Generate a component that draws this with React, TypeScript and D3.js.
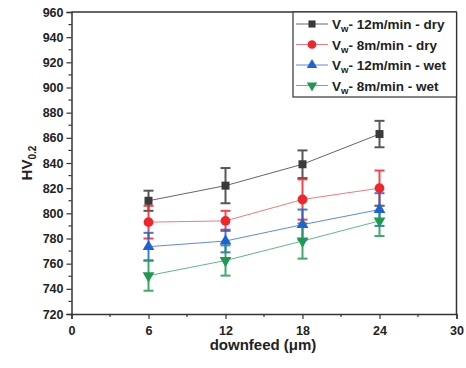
import React, { useEffect, useRef } from 'react';
import * as d3 from 'd3';

const downfeed = [6, 12, 18, 24];
const seriesNames = ['12m/min - dry', '8m/min - dry', '12m/min - wet', '8m/min - wet'];
const dry12 = [810, 822, 839, 863];
const dry12Err = [8, 14, 11, 10.5];
const dry8 = [793, 794, 811, 820];
const dry8Err = [13, 8, 16, 14];
const wet12 = [773.5, 778, 791, 803];
const wet12Err = [11, 9, 12, 13];
const wet8 = [750.5, 762.5, 778, 794];
const wet8Err = [12, 12, 14, 12];
const xTicks = [0, 6, 12, 18, 24, 30];
const yTicks = [720, 740, 760, 780, 800, 820, 840, 860, 880, 900, 920, 940, 960];

export default function App() {
  const ref = useRef<SVGSVGElement>(null);

  useEffect(() => {
    const svg = d3.select(ref.current);
    svg.selectAll('*').remove();

    const left = 71.5, right = 456.5, top = 12, bottom = 314;
    const x = d3.scaleLinear().domain([0, 30]).range([left, right]);
    const y = d3.scaleLinear().domain([720, 960]).range([bottom, top]);
    const axisColor = '#333';
    const font = 'Arial, "Liberation Sans", sans-serif';

    const series = [
      { vals: dry12, err: dry12Err, color: '#3a3a3a', line: '#666', shape: d3.symbolSquare, size: 64, rot: 0 },
      { vals: dry8, err: dry8Err, color: '#f0262c', line: '#f07a7e', shape: d3.symbolCircle, size: 75, rot: 0 },
      { vals: wet12, err: wet12Err, color: '#1e62d6', line: '#5b8be0', shape: d3.symbolTriangle, size: 60, rot: 0 },
      { vals: wet8, err: wet8Err, color: '#1f9a52', line: '#62b786', shape: d3.symbolTriangle, size: 60, rot: 180 },
    ];

    // axes
    const xAxis = d3.axisBottom(x).tickValues(xTicks).tickSize(5).tickFormat(d3.format('d'));
    const gx = svg.append('g').attr('transform', `translate(0,${bottom})`).call(xAxis);
    const yAxis = d3.axisLeft(y).tickValues(yTicks).tickSize(5).tickFormat(d3.format('d'));
    const gy = svg.append('g').attr('transform', `translate(${left},0)`).call(yAxis);
    [gx, gy].forEach(g => {
      g.select('.domain').attr('stroke', axisColor).attr('stroke-width', 1.5);
      g.selectAll('.tick line').attr('stroke', axisColor).attr('stroke-width', 1.2);
      g.selectAll('.tick text').attr('fill', '#222').attr('font-size', 12.5).attr('font-weight', 'bold').attr('font-family', font);
    });
    gx.selectAll('.tick text').attr('dy', '1.0em');

    // minor ticks
    svg.append('g').selectAll('line').data(d3.range(3, 30, 6)).join('line')
      .attr('x1', d => x(d)).attr('x2', d => x(d)).attr('y1', bottom).attr('y2', bottom + 3)
      .attr('stroke', axisColor).attr('stroke-width', 1.2);
    svg.append('g').selectAll('line').data(d3.range(730, 960, 20)).join('line')
      .attr('x1', left).attr('x2', left - 3).attr('y1', d => y(d)).attr('y2', d => y(d))
      .attr('stroke', axisColor).attr('stroke-width', 1.2);

    // frame top/right
    svg.append('line').attr('x1', left).attr('x2', right).attr('y1', top).attr('y2', top).attr('stroke', axisColor).attr('stroke-width', 1.5);
    svg.append('line').attr('x1', right).attr('x2', right).attr('y1', top).attr('y2', bottom).attr('stroke', axisColor).attr('stroke-width', 1.5);

    // lines
    series.forEach(s => {
      const line = d3.line<number>().x((_, i) => x(downfeed[i])).y(d => y(d));
      svg.append('path').attr('d', line(s.vals)).attr('fill', 'none').attr('stroke', s.line).attr('stroke-width', 1);
    });

    // error bars
    series.forEach(s => {
      const g = svg.append('g').attr('stroke', s.color).attr('stroke-width', 2).attr('opacity', 0.85);
      s.vals.forEach((v, i) => {
        const cx = x(downfeed[i]);
        g.append('line').attr('x1', cx).attr('x2', cx).attr('y1', y(v - s.err[i])).attr('y2', y(v + s.err[i]));
        [v - s.err[i], v + s.err[i]].forEach(e => {
          g.append('line').attr('x1', cx - 5).attr('x2', cx + 5).attr('y1', y(e)).attr('y2', y(e));
        });
      });
    });

    // markers
    series.forEach(s => {
      svg.append('g').selectAll('path').data(s.vals).join('path')
        .attr('d', d3.symbol().type(s.shape).size(s.size)())
        .attr('transform', (d, i) => `translate(${x(downfeed[i])},${y(d)}) rotate(${s.rot})`)
        .attr('fill', s.color);
    });

    // legend
    const lg = svg.append('g');
    lg.append('rect').attr('x', 293).attr('y', top).attr('width', right - 293).attr('height', 85)
      .attr('fill', 'white').attr('stroke', axisColor).attr('stroke-width', 1.2);
    series.forEach((s, i) => {
      const ly = 24 + i * 20.5;
      lg.append('line').attr('x1', 296).attr('x2', 328).attr('y1', ly).attr('y2', ly).attr('stroke', s.line).attr('stroke-width', 1);
      lg.append('path').attr('d', d3.symbol().type(s.shape).size(s.size * 0.8)())
        .attr('transform', `translate(312,${ly}) rotate(${s.rot})`).attr('fill', s.color);
      const t = lg.append('text').attr('x', 332).attr('y', ly + 5).attr('font-family', font)
        .attr('font-size', 13.5).attr('font-weight', 'bold').attr('fill', '#222');
      t.append('tspan').text('V');
      t.append('tspan').attr('font-size', 9.5).attr('dy', 3).text('w');
      t.append('tspan').attr('dy', -3).text('- ' + seriesNames[i]);
    });

    // axis titles
    const xt = svg.append('text').attr('x', (left + right) / 2 - 1).attr('y', 350).attr('text-anchor', 'middle')
      .attr('font-family', font).attr('font-size', 15).attr('font-weight', 'bold').attr('fill', '#222');
    xt.text('downfeed (μm)');
    const yt = svg.append('text').attr('transform', `translate(32,${(top + bottom) / 2}) rotate(-90)`)
      .attr('text-anchor', 'middle').attr('font-family', font).attr('font-size', 15).attr('font-weight', 'bold').attr('fill', '#222');
    yt.append('tspan').text('HV');
    yt.append('tspan').attr('font-size', 10).attr('dy', 4).text('0.2');
  }, []);

  return (
    <svg ref={ref} width={466} height={368} style={{ position: 'absolute', left: 0, top: 0, background: 'white' }} />
  );
}
